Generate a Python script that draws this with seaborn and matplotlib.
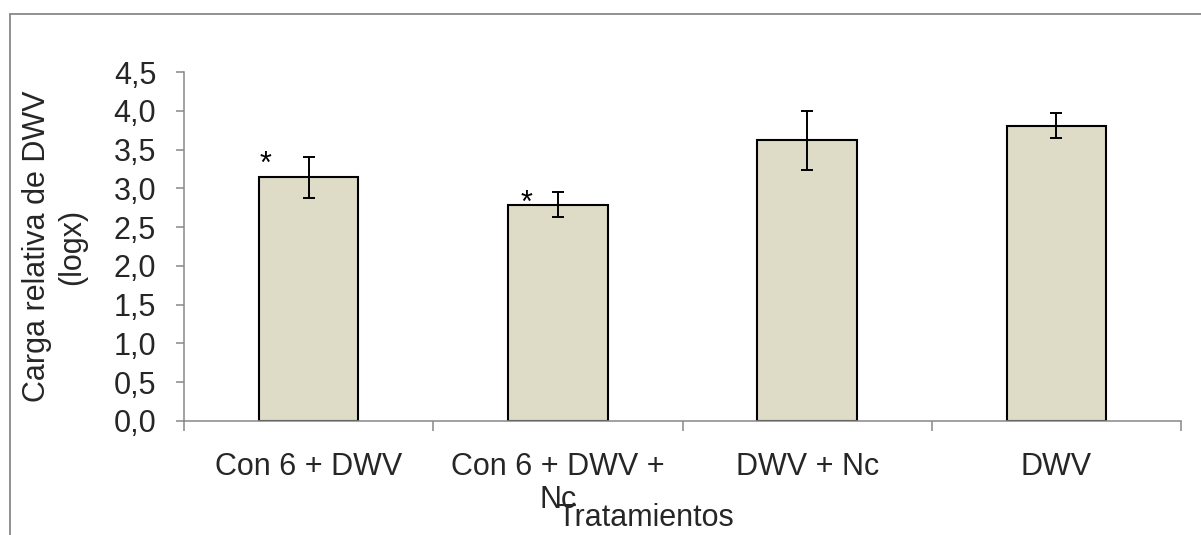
import matplotlib
matplotlib.use("Agg")
import matplotlib.pyplot as plt
from matplotlib.lines import Line2D
import seaborn as sns
import pandas as pd

categories = ["Con 6 + DWV", "Con 6 + DWV +\nNc", "DWV + Nc", "DWV"]
values = [3.14, 2.79, 3.62, 3.81]
errors = [0.26, 0.16, 0.38, 0.16]
ytick_vals = [0.0, 0.5, 1.0, 1.5, 2.0, 2.5, 3.0, 3.5, 4.0, 4.5]
ytick_labels = ["0,0", "0,5", "1,0", "1,5", "2,0", "2,5", "3,0", "3,5", "4,0", "4,5"]
star_cats = [0, 1]
star_dx = [-0.175, -0.125]
star_y = [3.30, 2.80]

sns.set_style("white")
plt.rcParams['font.family'] = ['Liberation Sans', 'DejaVu Sans']

FS = 22

df = pd.DataFrame({"cat": categories, "val": values})

fig = plt.figure(figsize=(12.01, 5.35), dpi=100)
ax = fig.add_axes([184/1201, 1-421/535, (1181-184)/1201, (421-72)/535])

sns.barplot(data=df, x="cat", y="val", color="#DEDCC7", saturation=1,
            edgecolor="black", linewidth=1.5, width=0.4, ax=ax, errorbar=None)
ax.errorbar(range(len(values)), values, yerr=errors, fmt="none",
            ecolor="black", elinewidth=1.4, capsize=4, capthick=1.4, zorder=5)

for c, dx, y in zip(star_cats, star_dx, star_y):
    ax.text(c + dx, y, "*", ha="center", va="center", fontsize=FS, color="black")

ax.set_xlim(-0.5, 3.5)
ax.set_ylim(0, 4.5)
ax.set_yticks(ytick_vals)
ax.set_yticklabels(ytick_labels, fontsize=FS)
ax.tick_params(axis="y", length=6, width=1.1, color="#888888", pad=14, left=True)
ax.set_xticks(range(len(categories)))
ax.set_xticklabels(categories, fontsize=FS, linespacing=1.15)
ax.set_xticks([-0.5, 0.5, 1.5, 2.5, 3.5], minor=True)
ax.tick_params(axis="x", which="major", length=0, pad=22)
ax.tick_params(axis="x", which="minor", length=7, width=1.1, color="#888888", bottom=True)

for side in ["top", "right"]:
    ax.spines[side].set_visible(False)
for side in ["left", "bottom"]:
    ax.spines[side].set_color("#888888")
    ax.spines[side].set_linewidth(1.1)

ax.set_xlabel("Tratamientos", fontsize=FS)
ax.xaxis.label.set_va("baseline")
ax.xaxis.set_label_coords(0.463, -0.302)
ax.set_ylabel("Carga relativa de DWV\n(logx)", fontsize=FS, linespacing=1.2)
ax.yaxis.label.set_va("center")
ax.yaxis.set_label_coords(-0.130, 0.5)

fig.add_artist(Line2D([9.5/1201, 1.0], [1-13.5/535, 1-13.5/535], transform=fig.transFigure,
                      color="#888888", linewidth=1.3))
fig.add_artist(Line2D([9.5/1201, 9.5/1201], [0.0, 1-13.5/535], transform=fig.transFigure,
                      color="#888888", linewidth=1.3))

fig.savefig("out.png", dpi=100)
